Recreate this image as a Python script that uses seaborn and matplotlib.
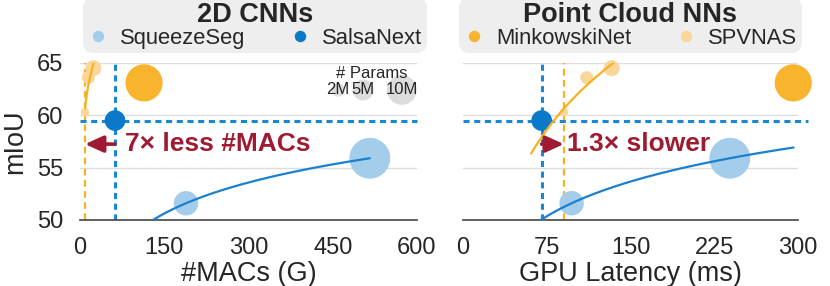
import matplotlib
matplotlib.use('Agg')
import matplotlib.pyplot as plt
from matplotlib.lines import Line2D
import numpy as np
import pandas as pd
import seaborn as sns

# Results
models = ['SqueezeSeg', 'SqueezeSeg', 'SalsaNext', 'MinkowskiNet', 'SPVNAS', 'SPVNAS', 'SPVNAS']
macs = [188.7, 516, 62.3, 114, 8.9, 14.8, 23.7]            # G
latency = [97.3, 239, 70.5, 295.8, 90.4, 110.8, 133.2]     # ms
miou = [51.6, 55.9, 59.5, 63.1, 60.3, 63.6, 64.5]
params = [9.4, 26.2, 6.7, 21.7, 1.1, 2.6, 4.0]             # M

# range covered by the trend curves
sq_range_macs = [120, 516]
sq_range_lat = [66, 296]
spv_range_macs = [8.9, 30]
spv_range_lat = [61, 150]

key_params = [2, 5, 10]
key_labels = ['2M', '5M', '10M']

df = pd.DataFrame({'model': models, 'macs': macs, 'latency': latency,
                   'miou': miou, 'params': params})

palette = {'SqueezeSeg': '#a3cdea', 'SalsaNext': '#0a79c9',
           'MinkowskiNet': '#f7b42c', 'SPVNAS': '#fad698'}
BLUE_LINE = '#1a86d6'
ORANGE_LINE = '#f6b31f'
RED = '#9e1b32'
S_PER_M = 33

sns.set_theme(style='white')
plt.rcParams['font.family'] = ['Liberation Sans', 'DejaVu Sans']


def log_fit(xs, ys, lo, hi):
    b, a = np.polyfit(np.log(xs), ys, 1)
    xx = np.linspace(lo, hi, 200)
    return xx, a + b * np.log(xx)


fig = plt.figure(figsize=(8.3, 2.86), dpi=100)
ax1 = fig.add_axes([0.0964, 0.2308, 0.406, 0.549])
ax2 = fig.add_axes([0.5578, 0.2308, 0.4036, 0.549])

salsa = df[df.model == 'SalsaNext'].iloc[0]
sq = df[df.model == 'SqueezeSeg']
spv = df[df.model == 'SPVNAS']

panels = [(ax1, 'macs', sq_range_macs, spv_range_macs),
          (ax2, 'latency', sq_range_lat, spv_range_lat)]
for ax, col, sq_rng, spv_rng in panels:
    ax.axhline(salsa.miou, color=BLUE_LINE, lw=2.2, ls=(0, (2, 1.5)), zorder=2,
               xmax=1.0 if ax is ax1 else 1.03, clip_on=False)
    ax.axvline(salsa[col], color=BLUE_LINE, lw=2.2, ls=(0, (2, 1.5)), zorder=2)
    ax.axvline(spv[col].min(), color=ORANGE_LINE, lw=1.6, ls=(0, (3, 2)), zorder=2)
    sns.scatterplot(data=df, x=col, y='miou', hue='model', palette=palette,
                    size='params', sizes=(S_PER_M * min(params), S_PER_M * max(params)),
                    size_norm=(min(params), max(params)), linewidth=0,
                    legend=False, clip_on=False, zorder=3, ax=ax)
    xx, yy = log_fit(sq[col], sq.miou, *sq_rng)
    ax.plot(xx, yy, color='#1a80cf', lw=1.6, zorder=4)
    xx, yy = log_fit(spv[col], spv.miou, *spv_rng)
    ax.plot(xx, yy, color=ORANGE_LINE, lw=1.6, zorder=4)

    ax.set_ylim(50, 65)
    ax.set_yticks([50, 55, 60, 65])
    ax.grid(axis='y', color='#dddddd', lw=1)
    ax.grid(axis='x', visible=False)
    for s in ['left', 'right', 'top']:
        ax.spines[s].set_visible(False)
    ax.spines['bottom'].set_color('#444444')
    ax.spines['bottom'].set_linewidth(1.2)
    ax.tick_params(length=0, labelsize=17)
    ax.tick_params(axis='x', pad=12)
    ax.tick_params(axis='y', pad=12)

ax1.set_xlim(0, 600)
ax1.set_xticks([0, 150, 300, 450, 600])
ax2.set_xlim(0, 300)
ax2.set_xticks([0, 75, 150, 225, 300])
ax2.set_yticklabels([])
ax2.set_ylabel('')
ax1.set_xlabel('#MACs (G)', fontsize=19.5, labelpad=2)
ax2.set_xlabel('GPU Latency (ms)', fontsize=19.5, labelpad=2)
ax1.set_ylabel('mIoU', fontsize=19.5, labelpad=6)

# annotations
arrow_y = 57.25
arrow_kw = dict(arrowstyle='-|>,head_length=0.55,head_width=0.25', color=RED,
                lw=2.6, shrinkA=0, shrinkB=0, mutation_scale=20)
ax1.annotate('', xy=(spv.macs.min(), arrow_y), xytext=(salsa.macs, arrow_y),
             arrowprops=arrow_kw, zorder=5)
ax1.text(80, arrow_y, '7\u00d7 less #MACs', color=RED, fontsize=19,
         fontweight='bold', va='center', ha='left', zorder=5)
ax2.annotate('', xy=(spv.latency.min(), arrow_y), xytext=(salsa.latency, arrow_y),
             arrowprops=arrow_kw, zorder=5)
ax2.text(93, arrow_y, '1.3\u00d7 slower', color=RED, fontsize=19,
         fontweight='bold', va='center', ha='left', zorder=5)

# size key
key_x = [0.766, 0.84, 0.955]
ax1.scatter(key_x, [0.828] * 3, s=[45.6 * p for p in key_params], color='#dcdcdc',
            linewidth=0, transform=ax1.transAxes, zorder=2)
for kx, lab in zip(key_x, key_labels):
    ax1.text(kx, 0.828, lab, transform=ax1.transAxes, ha='center', va='center',
             fontsize=12, zorder=3)
ax1.text(0.866, 0.936, '# Params', transform=ax1.transAxes, ha='center',
         va='center', fontsize=12)


def group_legend(ax, title, names, cx):
    handles = [Line2D([], [], ls='', marker='o', markersize=7.2, color=palette[n])
               for n in names]
    leg = ax.legend(handles, names, title=title, ncol=2, loc='lower center',
                    bbox_to_anchor=(cx, 1.064), borderaxespad=0, fontsize=15.8,
                    title_fontproperties={'weight': 'bold', 'size': 19.5},
                    handlelength=1.0, handletextpad=0.5, columnspacing=2.0,
                    borderpad=0.2, labelspacing=0.0, frameon=True, fancybox=True,
                    facecolor='#eeeeee', edgecolor='none', framealpha=1)
    leg.get_frame().set_boxstyle('round,pad=0,rounding_size=0.5')
    return leg


group_legend(ax1, '2D CNNs', ['SqueezeSeg', 'SalsaNext'], 0.519)
group_legend(ax2, 'Point Cloud NNs', ['MinkowskiNet', 'SPVNAS'], 0.5)

fig.savefig('out.png', dpi=100)
